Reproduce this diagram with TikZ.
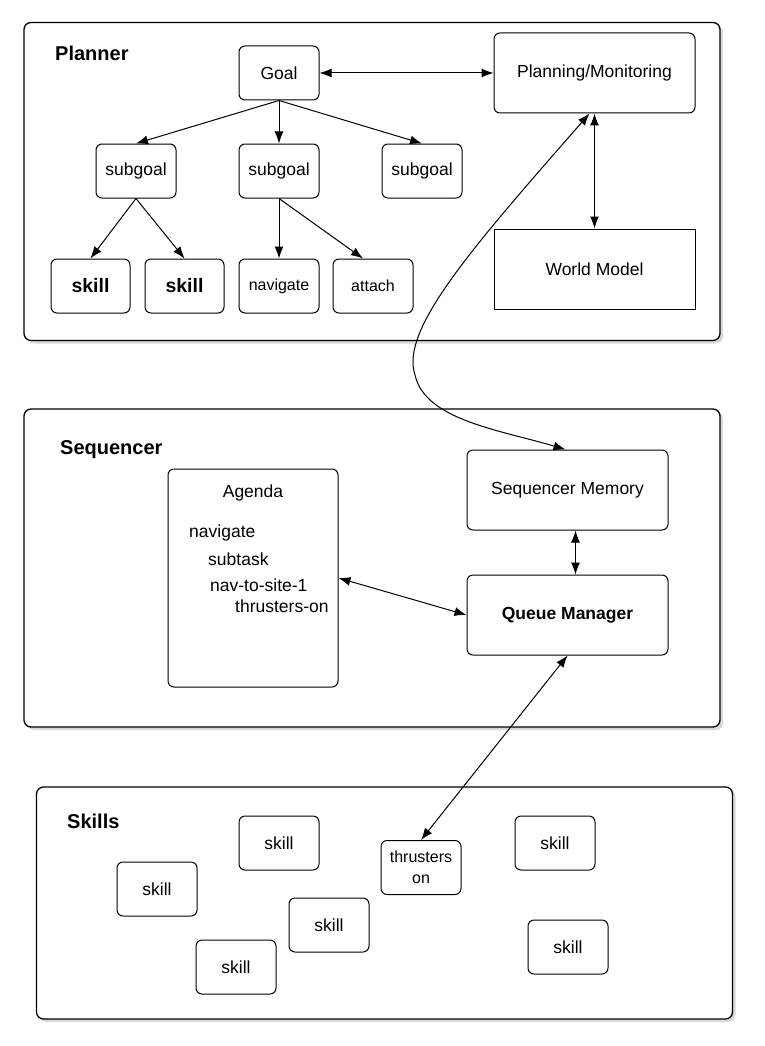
\documentclass[tikz,border=0pt]{standalone}
\usepackage{fontspec}
\setmainfont{Liberation Sans}
\usetikzlibrary{arrows.meta, positioning, shadows}

\begin{document}
\begin{tikzpicture}[
      x=1pt, y=-1pt,
      node distance=43pt and 62pt,
      every node/.style={align=center, font=\fontsize{17.5}{21}\selectfont},
      box/.style={draw, rounded corners=6pt, line width=1pt, minimum width=80pt, minimum height=54pt, inner sep=2pt},
      bigbox/.style={box, minimum width=201pt, minimum height=80pt},
      plainbox/.style={draw, line width=1pt, minimum width=201pt, minimum height=80pt},
      panel/.style={draw, rounded corners=7pt, line width=1.3pt, fill=white, minimum width=696pt,
         drop shadow={shadow xshift=3pt, shadow yshift=-3pt, opacity=0.3}},
      title/.style={anchor=base west, inner xsep=0pt, font=\fontsize{20}{24}\selectfont\bfseries},
      item/.style={anchor=base west, inner xsep=0pt},
      small/.style={font=\fontsize{16}{21}\selectfont},
      arr/.style={{Latex[length=12pt,width=9pt]}-{Latex[length=12pt,width=9pt]}, line width=1pt},
      tip/.style={-{Latex[length=12pt,width=9pt]}, line width=1pt}
   ]
      \useasboundingbox (0,0) rectangle (764,1046);

      \node[panel, minimum height=318pt] (planner) at (372,181.5) {};
      \node[panel, minimum height=318pt] (seq) at (372,568) {};
      \node[panel, minimum height=232pt] (skills) at (384.5,903) {};

      \node[title] (plannerlbl) at (55,61) {Planner};
      \node[box] (goal) at (279,73) {Goal};
      \node[box, below=of goal] (sub2) {subgoal};
      \node[box, left=of sub2] (sub1) {subgoal};
      \node[box, right=of sub2] (sub3) {subgoal};
      \node[box, small, below=60pt of sub2] (nav) {navigate};
      \node[box, small, right=13pt of nav] (attach) {attach};
      \node[box, left=14pt of nav, minimum width=79pt, font=\fontsize{19.5}{23}\selectfont\bfseries] (skillb) {skill};
      \node[box, left=14pt of skillb, minimum width=79pt, font=\fontsize{19.5}{23}\selectfont\bfseries] (skilla) {skill};
      \node[bigbox] (planmon) at (594.5,73) {Planning/Monitoring};
      \node[plainbox, below=115pt of planmon] (world) {World Model};

      \node[title] (seqlbl) at (60,454) {Sequencer};
      \node[box, minimum width=170pt, minimum height=218pt] (agenda) at (253,578) {};
      \node[anchor=base] (agtitle) at (253,497) {Agenda};
      \node[item] (agnav) at (189,537) {navigate};
      \node[item] (agsub) at (208,565) {subtask};
      \node[item] (agsite) at (210,591) {nav-to-site-1};
      \node[item] (agthr) at (235,612) {thrusters-on};
      \node[bigbox] (seqmem) at (567.5,490) {Sequencer Memory};
      \node[bigbox, below=44pt of seqmem, font=\fontsize{17.5}{21}\selectfont\bfseries] (queue) {Queue Manager};

      \node[title] (skillslbl) at (67,828) {Skills};
      \node[box] (ska) at (279,843) {skill};
      \node[box] (skb) at (157,889) {skill};
      \node[box] (skc) at (329,925) {skill};
      \node[box] (skd) at (236,967) {skill};
      \node[box, small] (thr) at (421,867.5) {thrusters\\on};
      \node[box] (ske) at (555,843) {skill};
      \node[box] (skf) at (568,947) {skill};

      \draw[arr] (goal) -- (planmon);
      \draw[tip] (goal.south) -- (sub1.north);
      \draw[tip] (goal.south) -- (sub2.north);
      \draw[tip] (goal.south) -- (sub3.north);
      \draw[tip] (sub1.south) -- (skilla.north);
      \draw[tip] (sub1.south) -- (skillb.north);
      \draw[tip] (sub2.south) -- (nav.north);
      \draw[tip] (sub2.south) -- ([xshift=-10pt]attach.north);
      \draw[arr] (planmon.south) -- (world.north);
      \draw[arr] ([xshift=-5pt]planmon.south) .. controls (470,250) and (400,330) .. (415,375)
         .. controls (425,420) and (500,430) .. ([xshift=-2pt]seqmem.north);
      \draw[arr] ([xshift=8pt]seqmem.south) -- ([xshift=8pt]queue.north);
      \draw[arr] (agenda.east) -- (queue.west);
      \draw[arr] (queue.south) -- (thr.north);
   \end{tikzpicture}
\end{document}
